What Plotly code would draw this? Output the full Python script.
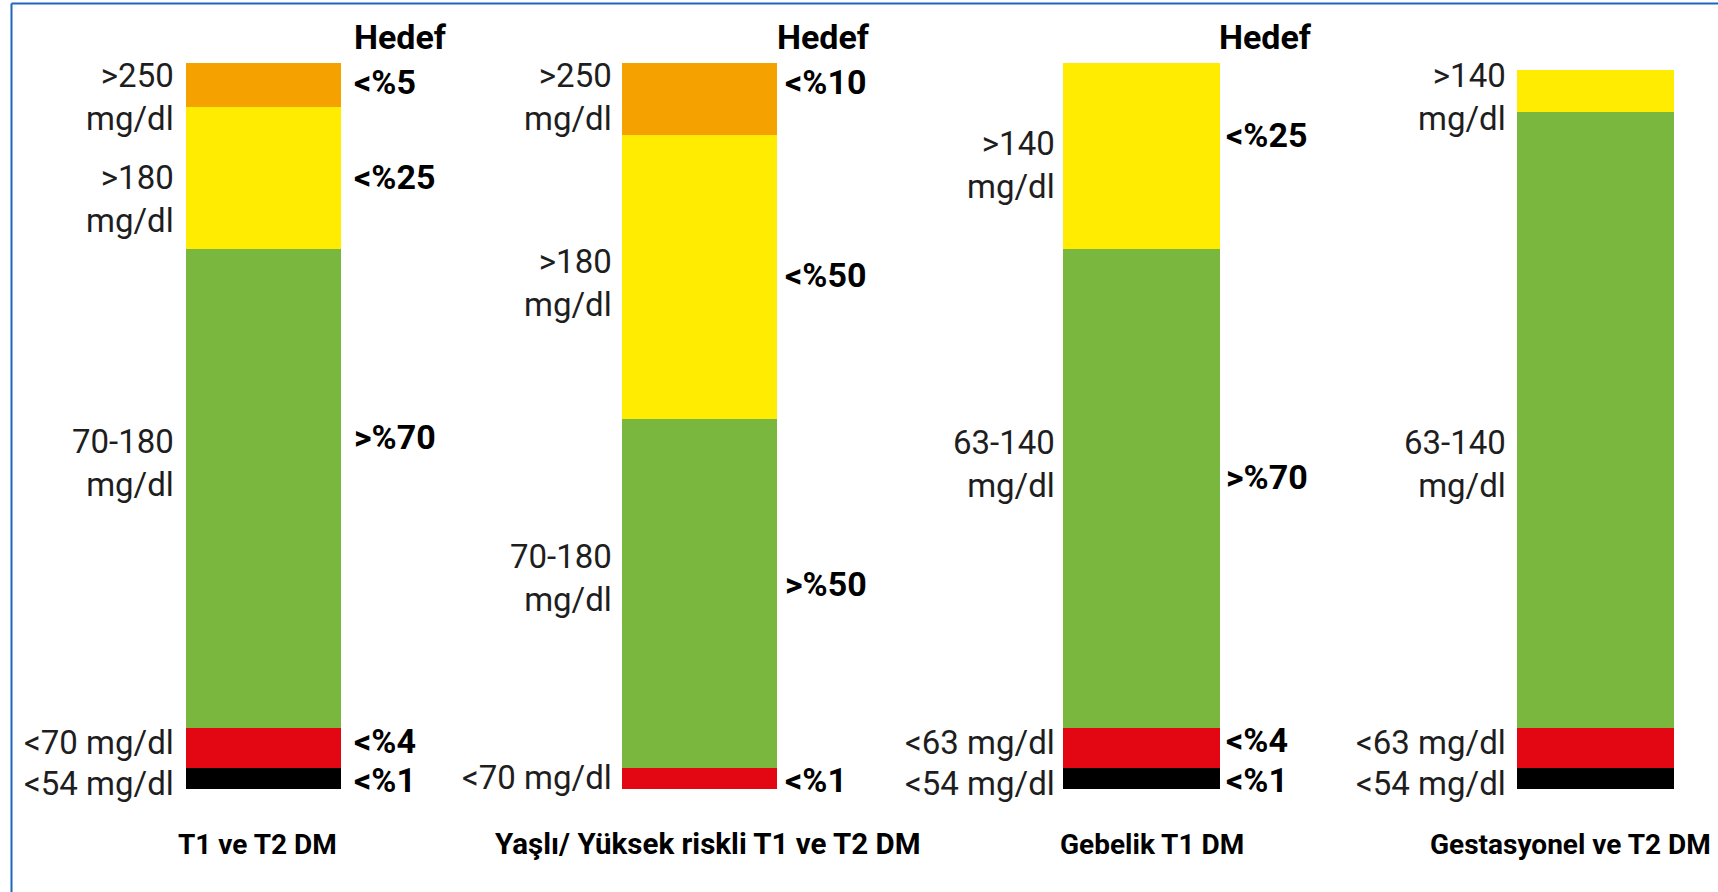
import plotly.graph_objects as go

# ---------------- data ----------------
categories = ["T1 ve T2 DM", "Yaşlı/ Yüksek riskli T1 ve T2 DM", "Gebelik T1 DM", "Gestasyonel ve T2 DM"]

# segment heights (share of the bar, %), bottom -> top
black_vals = [2.9, 0.0, 2.9, 2.9]
red_vals = [5.5, 2.9, 5.5, 5.5]
green_vals = [66.0, 48.1, 66.0, 84.8]
yellow_vals = [19.6, 39.1, 25.6, 5.9]
orange_vals = [6.1, 9.9, 0.0, 0.0]

range_labels = [
    [">250\nmg/dl", ">180\nmg/dl", "70-180\nmg/dl", "<70 mg/dl", "<54 mg/dl"],
    [">250\nmg/dl", ">180\nmg/dl", "70-180\nmg/dl", "<70 mg/dl"],
    [">140\nmg/dl", "63-140\nmg/dl", "<63 mg/dl", "<54 mg/dl"],
    [">140\nmg/dl", "63-140\nmg/dl", "<63 mg/dl", "<54 mg/dl"],
]
target_labels = [
    ["<%5", "<%25", ">%70", "<%4", "<%1"],
    ["<%10", "<%50", ">%50", "<%1"],
    ["<%25", ">%70", "<%4", "<%1"],
    [],
]
target_header = "Hedef"

# ---------------- layout / style ----------------
W, H = 1718, 892
FONT = "Roboto"
colors = {"black": "#000000", "red": "#E30613", "green": "#7AB73F",
          "yellow": "#FFEC00", "orange": "#F5A200"}
segments = [(black_vals, colors["black"]), (red_vals, colors["red"]),
            (green_vals, colors["green"]), (yellow_vals, colors["yellow"]),
            (orange_vals, colors["orange"])]

bar_left_px = [186, 622, 1063, 1517]
bar_width_px = [155, 155, 157, 157]
left_gap_px = [10, 8, 6, 9]
right_gap_px = [11, 6, 4, 4]
header_gap_px = [11, -2, -3, 0]
range_label_y_px = [[97.5, 199, 463, 742.5, 783],
                    [97.5, 283, 578, 777],
                    [165, 463.5, 742.5, 783],
                    [97.5, 463.5, 742.5, 783]]
target_label_y_px = [[81.5, 176.5, 436.5, 741, 780],
                     [81.5, 275, 584, 780],
                     [135, 477.5, 740, 780],
                     []]
header_y_px = 37
bottom_label_center_px = [257.5, 708, 1152, 1570.5]
bottom_label_sizes = [28, 29.5, 28, 28]
bottom_label_y_px = 844
y_bottom_px, y_top_px = 789, 63


def py(p):
    return 1 - p / H


def esc(t):
    return t.replace("&", "&amp;").replace("<", "&lt;").replace(">", "&gt;").replace("\n", "<br>")


def axname(i):
    return "x" if i == 0 else f"x{i + 1}"


fig = go.Figure()
for i, cat in enumerate(categories):
    for vals, col in segments:
        if vals[i] > 0:
            fig.add_trace(go.Bar(x=[cat], y=[vals[i]], xaxis=axname(i), yaxis="y",
                                 marker=dict(color=col, line=dict(width=0)),
                                 showlegend=False, hoverinfo="y"))

layout = dict(
    width=W, height=H, margin=dict(l=0, r=0, t=0, b=0),
    paper_bgcolor="white", plot_bgcolor="white",
    barmode="stack", bargap=0, showlegend=False,
    yaxis=dict(domain=[py(y_bottom_px), py(y_top_px)], range=[0, 100], visible=False, fixedrange=True),
)
for i in range(4):
    key = "xaxis" if i == 0 else f"xaxis{i + 1}"
    layout[key] = dict(domain=[bar_left_px[i] / W, (bar_left_px[i] + bar_width_px[i]) / W],
                       range=[-0.5, 0.5], visible=False, anchor="y", fixedrange=True)
fig.update_layout(**layout)

annotations = []
for i in range(4):
    xr = f"{axname(i)} domain"
    for txt, yp in zip(range_labels[i], range_label_y_px[i]):
        annotations.append(dict(text=esc(txt), xref=xr, x=0, xanchor="right", xshift=-left_gap_px[i],
                                yref="paper", y=py(yp), yanchor="middle", align="right", showarrow=False,
                                font=dict(family=FONT, size=33, color="#1e1e1e")))
    if target_labels[i]:
        annotations.append(dict(text=target_header, xref=xr, x=1, xanchor="left", xshift=header_gap_px[i],
                                yref="paper", y=py(header_y_px), yanchor="middle", showarrow=False,
                                font=dict(family=FONT, size=34, color="#000000", weight="bold")))
    for txt, yp in zip(target_labels[i], target_label_y_px[i]):
        annotations.append(dict(text=esc(txt), xref=xr, x=1, xanchor="left", xshift=right_gap_px[i],
                                yref="paper", y=py(yp), yanchor="middle", align="left", showarrow=False,
                                font=dict(family=FONT, size=34, color="#000000", weight="bold")))
    annotations.append(dict(text=esc(categories[i]), xref="paper", x=bottom_label_center_px[i] / W,
                            xanchor="center", yref="paper", y=py(bottom_label_y_px), yanchor="middle",
                            showarrow=False,
                            font=dict(family=FONT, size=bottom_label_sizes[i], color="#000000", weight="bold")))
fig.update_layout(annotations=annotations)

# frame lines (top and left) of the original figure box
border = "#1F66C0"
fig.add_shape(type="line", xref="paper", yref="paper", x0=11.5 / W, x1=1, y0=py(3.5), y1=py(3.5),
              line=dict(color=border, width=2))
fig.add_shape(type="line", xref="paper", yref="paper", x0=11.5 / W, x1=11.5 / W, y0=0, y1=py(3.5),
              line=dict(color=border, width=2))

fig.write_html("out.html", config={"displayModeBar": False},
               post_script="document.body.style.margin='0';document.body.style.overflow='hidden';")
